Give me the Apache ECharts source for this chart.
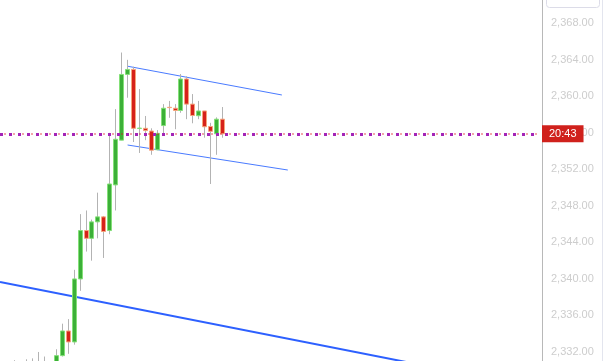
<!DOCTYPE html>
<html>
<head>
<meta charset="utf-8">
<script src="https://cdn.jsdelivr.net/npm/echarts@6/dist/echarts.min.js"></script>
<style>
html,body{margin:0;padding:0;background:#fff;}
#chart{width:605px;height:361px;}
</style>
</head>
<body>
<div id="chart"></div>
<script>
// candle index (bar position)
const candleIndex = [0,1,2,3,4,5,6,7,8,9,10,11,12,13,14,15,16,17,18,19,20,21,22,23,24,25,26,27,28,29,30,31,32,33,34,35,36,37];
const opens  = [2330.2,2330.5,2330.5,2330.3,2330.6,2330.4,2330.7,2330.5,2330.8,2330.4,2331.6,2334.3,2333.1,2340.0,2345.3,2344.45,2346.25,2346.8,2345.3,2350.3,2355.2,2362.4,2362.95,2356.5,2356.5,2356.2,2354.15,2356.8,2358.8,2358.7,2358.45,2361.9,2359.15,2357.88,2358.4,2356.7,2355.9,2357.5];
const closes = [2330.5,2330.3,2330.3,2330.6,2330.4,2330.7,2330.5,2330.8,2330.4,2331.6,2334.3,2333.1,2340.0,2345.3,2344.45,2346.25,2346.8,2345.2,2350.4,2355.3,2362.4,2362.95,2356.5,2356.52,2356.25,2354.1,2355.95,2358.7,2358.78,2358.45,2361.9,2359.15,2357.9,2358.4,2356.67,2356.17,2357.5,2355.9];
const lows   = [2329.8,2329.9,2329.9,2330.0,2330.0,2330.1,2330.0,2330.2,2330.0,2330.2,2331.5,2331.8,2332.8,2338.7,2343.0,2342.0,2344.45,2342.3,2344.9,2347.5,2355.2,2359.85,2355.0,2353.8,2355.2,2353.6,2354.1,2355.95,2357.65,2356.4,2358.2,2357.5,2357.05,2357.5,2355.47,2350.4,2353.6,2355.47];
const highs  = [2330.7,2330.9,2331.1,2330.8,2331.2,2331.3,2332.0,2331.5,2330.9,2332.3,2335.1,2335.6,2341.0,2347.1,2347.5,2346.5,2349.45,2346.9,2356.0,2358.6,2364.8,2364.0,2363.25,2360.8,2357.85,2356.5,2356.3,2359.15,2359.5,2359.15,2362.45,2362.2,2360.25,2359.5,2358.4,2357.1,2357.7,2358.83];

// trend lines: [barIndex, price]
const channelUpper = [[21, 2363.3], [47, 2360.15]];
const channelLower = [[21, 2354.67], [48, 2351.93]];
const supportLine  = [[-0.5, 2339.66], [80, 2329.36]];

// current price and its time label
const currentPrice = 2355.9;
const priceLabel = '20:43';

// y-axis ticks
const yMin = 2328, yMax = 2372, yStep = 4;

const candleData = candleIndex.map((i, k) => [i, opens[k], closes[k], lows[k], highs[k]]);

function renderCandle(params, api) {
  const i = api.value(0), o = api.value(1), c = api.value(2), l = api.value(3), h = api.value(4);
  const pO = api.coord([i, o]), pC = api.coord([i, c]), pL = api.coord([i, l]), pH = api.coord([i, h]);
  const cx = Math.floor(pO[0]) + 0.5;
  const up = c >= o;
  const top = Math.min(pO[1], pC[1]), bot = Math.max(pO[1], pC[1]);
  return {
    type: 'group',
    children: [
      { type: 'line', shape: { x1: cx, y1: pH[1], x2: cx, y2: pL[1] },
        style: { stroke: '#b3b3b3', lineWidth: 1 } },
      { type: 'rect', shape: { x: cx - 2, y: top, width: 4, height: Math.max(bot - top, 0.3) },
        style: { fill: up ? '#3cb038' : '#d6221a', stroke: up ? '#84e078' : '#f5a47a', lineWidth: 1 } }
    ]
  };
}

const chart = echarts.init(document.getElementById('chart'), null, { renderer: 'canvas' });
chart.setOption({
  animation: false,
  backgroundColor: '#ffffff',
  grid: { left: 0, right: 65, top: -13.2, bottom: -27.5, containLabel: false, outerBoundsMode: 'none' },
  xAxis: { type: 'value', min: -0.5, max: 90.5, show: false },
  yAxis: {
    type: 'value', position: 'right', offset: 2,
    min: yMin, max: yMax, interval: yStep,
    axisLine: { show: true, onZero: false, lineStyle: { color: '#b8b8b8', width: 1 } },
    axisTick: { show: false },
    splitLine: { show: false },
    axisLabel: {
      margin: 9, color: '#cdcdcd', fontFamily: 'Liberation Sans', fontSize: 11,
      formatter: v => v.toLocaleString('en-US', { minimumFractionDigits: 2, maximumFractionDigits: 2 })
    }
  },
  graphic: [
    { type: 'rect', shape: { x: 546.5, y: -10, width: 53, height: 17.5, r: 3 },
      style: { fill: '#fff', stroke: '#dcdce8', lineWidth: 1 }, z: 10 },
    { type: 'line', shape: { x1: 602.5, y1: 0, x2: 602.5, y2: 361 },
      style: { stroke: '#e3e5ee', lineWidth: 1 }, z: 10 }
  ],
  series: [
    { type: 'line', data: supportLine, symbol: 'none', silent: true,
      lineStyle: { color: '#2d60ff', width: 2 }, z: 1 },
    { type: 'line', data: channelUpper, symbol: 'none', silent: true,
      lineStyle: { color: '#4a7bff', width: 1 }, z: 1 },
    { type: 'line', data: channelLower, symbol: 'none', silent: true,
      lineStyle: { color: '#4a7bff', width: 1 }, z: 1 },
    { type: 'custom', renderItem: renderCandle, data: candleData, z: 2,
      encode: { x: 0, y: [1, 2, 3, 4] } },
    { type: 'line', data: [], z: 5,
      markLine: {
        silent: true, symbol: 'none', animation: false,
        data: [
          { yAxis: currentPrice, lineStyle: { color: '#e0141c', width: 1.5, type: [1, 3.5] }, label: { show: false } },
          { yAxis: currentPrice, lineStyle: { color: '#a324b8', width: 3, type: [3, 6], cap: 'butt' },
            label: { show: true, position: 'end', distance: 2, formatter: priceLabel,
              color: '#ffffff', backgroundColor: '#d0211c', padding: [2, 7, 2, 7],
              fontFamily: 'Liberation Sans', fontSize: 11, lineHeight: 13 } }
        ]
      }
    }
  ]
});
</script>
</body>
</html>
